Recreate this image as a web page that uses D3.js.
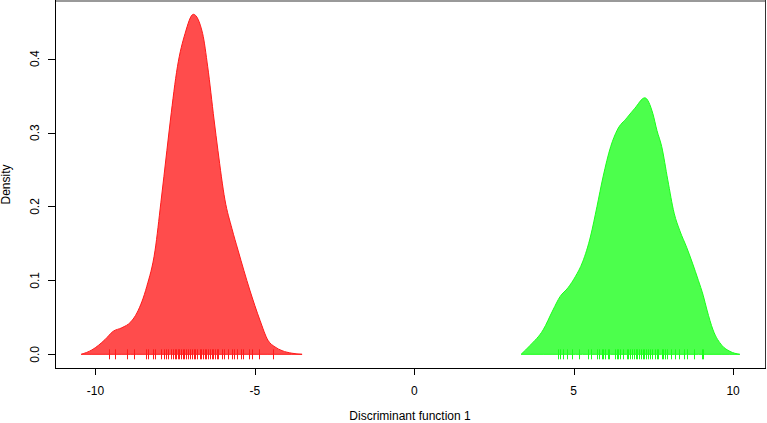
<!DOCTYPE html>
<html><head><meta charset="utf-8">
<script src="https://cdn.jsdelivr.net/npm/d3@7"></script>
<style>body{margin:0;background:#fff}svg{display:block}text{font-family:"Liberation Sans",Arial,sans-serif;fill:#000}</style>
</head><body><svg id="c" width="767" height="423"></svg>
<script>
// Density curves: [x, density]
const redDensity = [[-10.45,0],[-10.11,0.006],[-9.70,0.020],[-9.45,0.031],[-9.17,0.036],[-8.89,0.044],[-8.70,0.056],[-8.39,0.092],[-8.13,0.141],[-7.95,0.205],[-7.76,0.276],[-7.65,0.317],[-7.43,0.389],[-7.19,0.434],[-6.93,0.460],[-6.64,0.434],[-6.48,0.389],[-6.28,0.317],[-6.16,0.276],[-5.94,0.209],[-5.72,0.170],[-5.53,0.141],[-5.16,0.087],[-4.84,0.046],[-4.59,0.019],[-4.37,0.010],[-4.15,0.005],[-3.84,0.0015],[-3.52,0]];
const greenDensity = [[3.35,0],[3.63,0.012],[4.04,0.033],[4.35,0.060],[4.57,0.078],[4.82,0.090],[5.05,0.105],[5.28,0.125],[5.53,0.160],[5.73,0.200],[5.92,0.240],[6.16,0.281],[6.36,0.303],[6.67,0.320],[6.92,0.333],[7.23,0.347],[7.48,0.326],[7.61,0.303],[7.76,0.281],[7.95,0.236],[8.15,0.191],[8.33,0.167],[8.54,0.145],[8.91,0.100],[9.06,0.080],[9.18,0.060],[9.37,0.033],[9.65,0.012],[9.90,0.004],[10.21,0]];
// Rug observations
const redRug = [-9.57,-9.38,-9.00,-8.79,-8.42,-8.34,-8.19,-8.12,-7.94,-7.86,-7.80,-7.73,-7.63,-7.58,-7.52,-7.47,-7.42,-7.37,-7.32,-7.26,-7.21,-7.15,-7.10,-7.04,-6.97,-6.92,-6.88,-6.83,-6.73,-6.68,-6.63,-6.57,-6.52,-6.46,-6.41,-6.35,-6.30,-6.25,-6.19,-6.16,-6.04,-5.97,-5.83,-5.73,-5.66,-5.57,-5.44,-5.36,-5.18,-5.09,-4.86,-4.42];
const greenRug = [4.50,4.57,4.65,4.78,4.96,5.18,5.44,5.53,5.72,5.79,5.88,5.93,5.98,6.09,6.12,6.30,6.35,6.40,6.45,6.56,6.66,6.71,6.77,6.83,6.90,6.95,7.00,7.05,7.10,7.16,7.22,7.28,7.34,7.39,7.45,7.55,7.60,7.65,7.76,7.81,7.86,7.94,8.04,8.18,8.31,8.46,8.54,8.77,9.02,9.07];
const xTicks = [-10,-5,0,5,10];
const yTicks = [0,0.1,0.2,0.3,0.4];
const xLabel = "Discriminant function 1";
const yLabel = "Density";

const svg = d3.select("#c");
const L=55, R=765, T=1, B=368;
const x = d3.scaleLinear().domain([-11.27,11.0]).range([L,R]);
const y = d3.scaleLinear().domain([-0.0185,0.478]).range([B,T]);

const area = d3.area().x(d=>x(d[0])).y0(y(0)).y1(d=>y(d[1])).curve(d3.curveMonotoneX);
function drawGroup(dens, rug, fill, stroke){
  svg.append("path").datum(dens).attr("d", area)
    .attr("fill", fill).attr("stroke", stroke).attr("stroke-width",1);
  svg.append("g").selectAll("line").data(rug).join("line")
    .attr("x1", d=>Math.round(x(d))+0.5).attr("x2", d=>Math.round(x(d))+0.5)
    .attr("y1", y(0)-5).attr("y2", y(0)+5)
    .attr("stroke", stroke).attr("stroke-width",1);
}
drawGroup(redDensity, redRug, "rgba(255,0,0,0.7)", "#ff1a1a");
drawGroup(greenDensity, greenRug, "rgba(0,255,0,0.7)", "#1aff1a");

// box
svg.append("line").attr("x1",L).attr("x2",R+1).attr("y1",1).attr("y2",1).attr("stroke","#999").attr("stroke-width",2);
svg.append("line").attr("x1",L+0.5).attr("x2",L+0.5).attr("y1",0).attr("y2",B+1).attr("stroke","#000");
svg.append("line").attr("x1",R+0.5).attr("x2",R+0.5).attr("y1",0).attr("y2",B+1).attr("stroke","#333");
svg.append("line").attr("x1",L).attr("x2",R+1).attr("y1",B+0.5).attr("y2",B+0.5).attr("stroke","#000");

// x axis ticks
const xa = svg.append("g");
xa.selectAll("line").data(xTicks).join("line")
  .attr("x1",d=>Math.round(x(d))+0.5).attr("x2",d=>Math.round(x(d))+0.5)
  .attr("y1",B).attr("y2",B+7).attr("stroke","#000");
xa.selectAll("text").data(xTicks).join("text")
  .attr("x",d=>x(d)).attr("y",395).attr("text-anchor","middle").attr("font-size",12)
  .text(d=>d3.format("d")(d).replace("−","-"));
// y axis ticks
const ya = svg.append("g");
ya.selectAll("line").data(yTicks).join("line")
  .attr("x1",L-7).attr("x2",L).attr("y1",d=>Math.round(y(d))+0.5).attr("y2",d=>Math.round(y(d))+0.5).attr("stroke","#000");
ya.selectAll("text").data(yTicks).join("text")
  .attr("transform",d=>`translate(39,${y(d)}) rotate(-90)`).attr("text-anchor","middle").attr("font-size",12)
  .text(d=>d3.format(".1f")(d));
// labels
svg.append("text").attr("x",(L+R)/2).attr("y",420).attr("text-anchor","middle").attr("font-size",12).text(xLabel);
svg.append("text").attr("transform",`translate(10,${(T+B)/2}) rotate(-90)`).attr("text-anchor","middle").attr("font-size",12).text(yLabel);
</script></body></html>
